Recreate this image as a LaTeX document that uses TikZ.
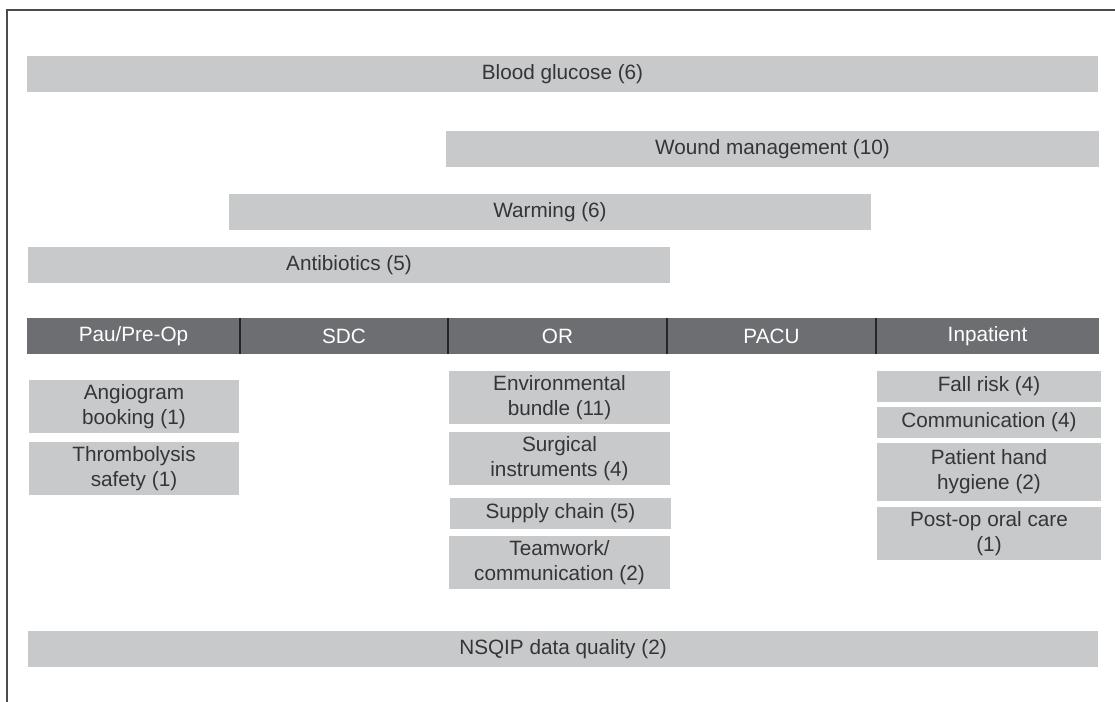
\documentclass[tikz,border=0pt]{standalone}
\usepackage{fontspec}
\setmainfont{Liberation Sans}
\usepackage{tikz}
\definecolor{barfill}{HTML}{C8C9CB}
\definecolor{headfill}{HTML}{6D6E71}
\definecolor{txtgrey}{HTML}{353535}

\begin{document}
\begin{tikzpicture}[x=0.02cm,y=-0.02cm,font=\fontsize{11.8}{14.3}\selectfont,
 bar/.style={rectangle,fill=barfill,text=txtgrey,inner sep=0pt,minimum height=0.72cm},
 item/.style={rectangle,fill=barfill,text=txtgrey,inner sep=0pt,align=center},
 head/.style={rectangle,fill=headfill,text=white,inner sep=0pt,minimum height=0.72cm},
 divider/.style={draw=black!85,line width=1.2pt}]
\useasboundingbox (0,0) rectangle (1115,702);
\draw[black!70,line width=0.6pt] (1115,10) -- (7,10) -- (7,702);
\node[bar,minimum width=21.42cm] (glucose) at (562.5,74) {Blood glucose (6)};
\node[bar,minimum width=13.06cm] (wound) at (772.5,149) {Wound management (10)};
\node[bar,minimum width=12.84cm] (warming) at (550,212) {Warming (6)};
\node[bar,minimum width=12.84cm] (antibio) at (349,265) {Antibiotics (5)};
\node[head,minimum width=4.26cm] (preop) at (133.5,336) {Pau/Pre-Op};
\node[head,minimum width=4.16cm] (sdc) at (344,336) {SDC};
\node[head,minimum width=4.38cm] (or) at (557.5,336) {OR};
\node[head,minimum width=4.18cm] (pacu) at (771.5,336) {PACU};
\node[head,minimum width=4.46cm] (inpat) at (987.5,336) {Inpatient};
\draw[divider] (preop.north east) -- (preop.south east);
\draw[divider] (sdc.north east) -- (sdc.south east);
\draw[divider] (or.north east) -- (or.south east);
\draw[divider] (pacu.north east) -- (pacu.south east);
\node[item,minimum width=4.2cm,minimum height=1.06cm] (angio) at (134,406.5) {Angiogram\\booking (1)};
\node[item,minimum width=4.2cm,minimum height=1.06cm] (thromb) at (134,468.5) {Thrombolysis\\safety (1)};
\node[item,minimum width=4.42cm,minimum height=1.06cm] (envir) at (559.5,397.5) {Environmental\\bundle (11)};
\node[item,minimum width=4.42cm,minimum height=1.06cm] (instr) at (559.5,458.5) {Surgical\\instruments (4)};
\node[item,minimum width=4.42cm,minimum height=0.62cm] (supply) at (560.5,513.5) {Supply chain (5)};
\node[item,minimum width=4.42cm,minimum height=1.06cm] (team) at (559.5,562.5) {Teamwork/\\communication (2)};
\node[item,minimum width=4.48cm,minimum height=0.62cm] (fall) at (989,386.5) {Fall risk (4)};
\node[item,minimum width=4.48cm,minimum height=0.62cm] (commun) at (989,422.5) {Communication (4)};
\node[item,minimum width=4.48cm,minimum height=1.16cm] (hygiene) at (989,472) {Patient hand\\hygiene (2)};
\node[item,minimum width=4.48cm,minimum height=1.06cm] (oral) at (989,533.5) {Post-op oral care\\(1)};
\node[bar,minimum width=21.4cm] (nsqip) at (563,649) {NSQIP data quality (2)};
\end{tikzpicture}
\end{document}
